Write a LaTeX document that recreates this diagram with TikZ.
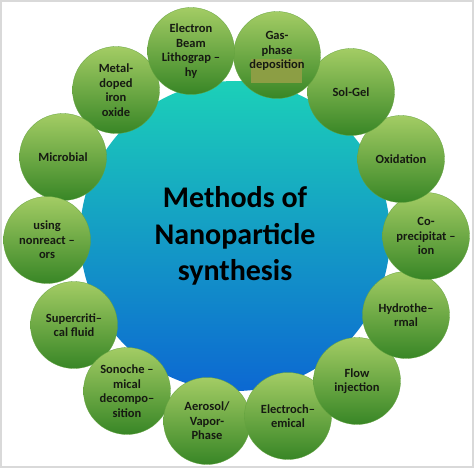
\documentclass[tikz,border=0pt]{standalone}
\usepackage{fontspec}
\setmainfont{Carlito}
\definecolor{gtop}{RGB}{163,204,100}
\definecolor{gmid}{RGB}{138,182,78}
\definecolor{gbot}{RGB}{56,134,38}
\definecolor{ctop}{RGB}{28,208,184}
\definecolor{cmid}{RGB}{30,198,228}
\definecolor{cbot}{RGB}{12,104,210}
\definecolor{hilite}{RGB}{140,158,68}
\definecolor{txt}{RGB}{22,26,18}
\begin{document}
\begin{tikzpicture}[x=1pt,y=-1pt,
  bub/.style={circle, minimum size=87pt, inner sep=0pt, top color=gtop, middle color=gmid, bottom color=gbot, draw=gbot!60!gtop, line width=0.3pt,
    align=center, text=txt, font=\fontsize{12.5}{14.6}\selectfont\bfseries},
  lbl/.style={align=center, text=txt, font=\fontsize{12.5}{14.6}\selectfont\bfseries, inner sep=0pt},
  core/.style={circle, minimum size=310pt, inner sep=0pt, top color=ctop, middle color=cmid, bottom color=cbot,
    align=center, text=black, font=\fontsize{30}{36.5}\selectfont\bfseries}]
\useasboundingbox (0,0) rectangle (474,468);
\fill[white] (0,0) rectangle (474,468);
\draw[black!15, line width=2pt] (1,1) rectangle (473,467);
\node[core] (core) at (235,236) {Methods of\\Nanoparticle\\synthesis};
\node[bub] (metal) at (116,90) {Metal-\\doped\\iron\\oxide};
\node[bub] (micro) at (63,157) {Microbial};
\node[bub] (nonr) at (47,240) {using\\nonreact --\\ors};
\node[bub] (super) at (74,325) {Supercriti--\\cal fluid};
\node[bub] (sono) at (127,391) {Sonoche --\\mical\\decompo--\\sition};
\node[bub] (aero) at (207,421) {Aerosol/\\Vapor-\\Phase};
\node[bub] (elch) at (288,416) {Electroch--\\emical};
\node[bub] (flow) at (357,381) {Flow\\injection};
\node[bub] (hydro) at (406,315) {Hydrothe--\\rmal};
\node[bub] (copr) at (426,236) {Co-\\precipitat --\\ion};
\node[bub] (oxid) at (401,159) {Oxidation};
\node[bub] (solgel) at (351,92) {Sol-Gel};
\node[bub] (gas) at (277,55) {};
\fill[hilite] (251,59) rectangle (302,83);
\node[lbl] (gastxt) at (277,51) {Gas-\\phase\\deposition};
\node[bub] (ebl) at (191,51) {Electron\\Beam\\Lithograp --\\hy};
\end{tikzpicture}
\end{document}
